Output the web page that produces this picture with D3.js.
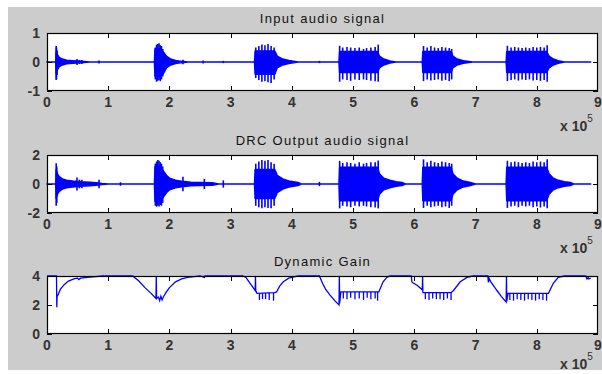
<!DOCTYPE html>
<html><head><meta charset="utf-8">
<script src="https://cdn.jsdelivr.net/npm/d3@7"></script>
<style>html,body{margin:0;padding:0;background:#fff}svg{display:block}</style>
</head><body><svg id="c" width="602" height="374"></svg>
<script>
// ---------- DATA (x in units of 1e5 samples) ----------
const xTicks = [0,1,2,3,4,5,6,7,8,9];
const titles = ["Input audio signal","DRC Output audio signal","Dynamic Gain"];
const yTicks1 = [-1,0,1];
const yTicks2 = [-2,0,2];
const yTicks3 = [0,2,4];

// Input signal: dense-core envelope
const inCoreX  = [0,0.145,0.15,0.17,0.2,0.25,0.32,0.42,0.55,0.7, 1.755,1.765,1.85,1.9,1.95,2.02,2.1,2.2,2.3, 3.39,3.40,3.72,3.76,3.85,3.95,4.1, 4.77,4.78,5.40,5.43,5.5,5.6,5.7, 6.13,6.14,6.60,6.63,6.7,6.8,6.95, 7.50,7.51,8.16,8.2,8.27,8.35,8.45, 8.88];
const inCoreHi = [0,0,0.35,0.25,0.16,0.1,0.06,0.04,0.02,0, 0,0.45,0.45,0.35,0.2,0.1,0.05,0.02,0, 0,0.38,0.38,0.2,0.1,0.05,0, 0,0.36,0.36,0.2,0.1,0.03,0, 0,0.36,0.36,0.2,0.1,0.04,0, 0,0.36,0.36,0.2,0.1,0.04,0, 0];
const inCoreLo = [0,0,-0.4,-0.27,-0.16,-0.1,-0.06,-0.04,-0.02,0, 0,-0.5,-0.5,-0.4,-0.2,-0.1,-0.05,-0.02,0, 0,-0.42,-0.42,-0.2,-0.1,-0.05,0, 0,-0.36,-0.36,-0.2,-0.1,-0.03,0, 0,-0.36,-0.36,-0.2,-0.1,-0.04,0, 0,-0.36,-0.36,-0.2,-0.1,-0.04,0, 0];
// Input signal: individual peaks
const inSpkX  = [0.15,0.155,0.165, 0.49,0.53,0.57,0.85, 1.77,1.79,1.81,1.83,1.85,1.87,1.89, 2.22,2.55,2.88, 3.41,3.46,3.51,3.56,3.61,3.66,3.71, 4.45, 4.78,4.83,4.90,4.96,5.03,5.10,5.17,5.22,5.29,5.36,5.41, 6.15,6.21,6.27,6.33,6.39,6.45,6.51,6.57,6.61, 7.52,7.58,7.64,7.70,7.76,7.82,7.88,7.94,8.00,8.06,8.12,8.17];
const inSpkHi = [0.55,0.5,0.4, 0.1,0.07,0.07,0.05, 0.5,0.6,0.62,0.65,0.58,0.55,0.45, 0.08,0.05,0.04, 0.5,0.55,0.6,0.58,0.62,0.55,0.5, 0.04, 0.56,0.5,0.52,0.5,0.48,0.5,0.45,0.48,0.5,0.52,0.6, 0.55,0.5,0.55,0.5,0.48,0.52,0.5,0.48,0.45, 0.56,0.5,0.52,0.5,0.48,0.5,0.48,0.52,0.5,0.52,0.5,0.58];
const inSpkLo = [-0.62,-0.58,-0.45, -0.1,-0.07,-0.07,-0.05, -0.6,-0.68,-0.65,-0.62,-0.66,-0.6,-0.5, -0.08,-0.05,-0.04, -0.55,-0.62,-0.68,-0.66,-0.7,-0.72,-0.6, -0.04, -0.68,-0.6,-0.62,-0.65,-0.6,-0.62,-0.6,-0.62,-0.65,-0.66,-0.68, -0.66,-0.6,-0.64,-0.62,-0.6,-0.65,-0.62,-0.66,-0.6, -0.66,-0.62,-0.6,-0.64,-0.6,-0.62,-0.6,-0.64,-0.62,-0.65,-0.62,-0.68];

// DRC output signal: dense-core envelope
const outCoreX  = [0,0.145,0.15,0.17,0.2,0.25,0.32,0.42,0.55,0.7,0.8,0.9,1.0, 1.755,1.765,1.85,1.9,1.95,2.0,2.1,2.2,2.35,2.5,2.7,2.8, 3.39,3.40,3.72,3.76,3.85,3.95,4.1,4.15, 4.77,4.78,5.40,5.43,5.5,5.6,5.7,5.8,5.85, 6.13,6.14,6.60,6.63,6.7,6.8,6.9,7.0, 7.50,7.51,8.16,8.2,8.27,8.35,8.45,8.55,8.6, 8.88];
const outCoreHi = [0,0,1.0,0.7,0.5,0.35,0.25,0.2,0.15,0.12,0.08,0.03,0, 0,1.2,1.2,0.9,0.6,0.4,0.25,0.18,0.12,0.1,0.08,0, 0,1.0,1.0,0.6,0.35,0.2,0.1,0, 0,1.15,1.15,0.7,0.4,0.25,0.15,0.1,0, 0,1.15,1.15,0.7,0.4,0.2,0.12,0, 0,1.15,1.15,0.7,0.4,0.25,0.15,0.1,0, 0];
const outCoreLo = [0,0,-1.0,-0.7,-0.5,-0.35,-0.25,-0.2,-0.15,-0.12,-0.08,-0.03,0, 0,-1.2,-1.2,-0.9,-0.6,-0.4,-0.25,-0.18,-0.12,-0.1,-0.08,0, 0,-1.0,-1.0,-0.6,-0.35,-0.2,-0.1,0, 0,-1.15,-1.15,-0.7,-0.4,-0.25,-0.15,-0.1,0, 0,-1.15,-1.15,-0.7,-0.4,-0.2,-0.12,0, 0,-1.15,-1.15,-0.7,-0.4,-0.25,-0.15,-0.1,0, 0];
// DRC output signal: individual peaks
const outSpkX  = [0.15,0.16, 0.49,0.53,0.57,0.85,1.2, 1.77,1.79,1.81,1.83,1.85,1.87,1.89, 2.22,2.57,2.88, 3.41,3.46,3.51,3.56,3.61,3.66,3.71, 4.45, 4.78,4.83,4.90,4.96,5.03,5.10,5.17,5.22,5.29,5.36,5.41, 6.15,6.21,6.27,6.33,6.39,6.45,6.51,6.57,6.61, 7.52,7.58,7.64,7.70,7.76,7.82,7.88,7.94,8.00,8.06,8.12,8.17];
const outSpkHi = [1.43,1.2, 0.45,0.3,0.3,0.3,0.12, 1.4,1.55,1.66,1.6,1.5,1.4,1.2, 0.5,0.35,0.25, 1.4,1.55,1.66,1.6,1.66,1.5,1.4, 0.15, 1.59,1.45,1.5,1.45,1.4,1.5,1.4,1.45,1.5,1.5,1.62, 1.7,1.5,1.6,1.5,1.45,1.55,1.5,1.45,1.4, 1.6,1.5,1.55,1.5,1.45,1.5,1.45,1.55,1.5,1.55,1.5,1.7];
const outSpkLo = [-1.5,-1.3, -0.45,-0.3,-0.3,-0.3,-0.12, -1.5,-1.56,-1.5,-1.55,-1.45,-1.5,-1.3, -0.5,-0.35,-0.25, -1.5,-1.6,-1.68,-1.6,-1.65,-1.68,-1.5, -0.15, -1.68,-1.5,-1.55,-1.6,-1.5,-1.55,-1.5,-1.55,-1.6,-1.62,-1.68, -1.65,-1.5,-1.6,-1.55,-1.5,-1.6,-1.55,-1.65,-1.5, -1.65,-1.55,-1.5,-1.6,-1.5,-1.55,-1.5,-1.6,-1.55,-1.62,-1.55,-1.68];

// Dynamic gain: smooth curve
const gainX = [0,0.155,0.16,0.165,0.18,0.22,0.28,0.35,0.45,0.5,0.52,0.55,0.7,0.8,0.9, 1.4,1.5,1.6,1.7,1.77,1.78,1.785,1.79,1.82,1.84,1.86,1.88,1.9,1.95,2.0,2.1,2.2,2.3,2.4,2.5,2.57,2.58,
  3.2,3.25,3.3,3.35,3.4,3.405,3.41,3.43,3.72,3.75,3.8,3.86,3.95,4.05,4.1,
  4.45,4.5,4.55,4.62,4.7,4.77,4.775,4.78,4.8,5.41,5.42,5.49,5.55,5.6,
  5.95,5.96,5.97,6.05,6.13,6.135,6.14,6.6,6.64,6.75,6.86,6.95,
  7.2,7.21,7.22,7.25,7.35,7.42,7.5,7.505,7.51,7.53,8.17,8.19,8.27,8.35,8.45,
  8.8,8.82,8.84,8.85,8.88];
const gainY = [4,4,1.85,2.6,2.7,3.1,3.4,3.65,3.82,3.85,3.75,3.85,3.92,3.95,4, 4,3.65,3.2,2.8,2.5,2.45,4,2.45,2.55,2.3,2.6,2.35,2.55,2.9,3.2,3.6,3.8,3.9,3.95,4,3.9,4,
  4,3.9,3.6,3.3,3.0,4,3.0,2.8,2.85,2.9,3.3,3.6,3.85,3.95,4,
  4,3.5,3.1,2.7,2.3,2.0,4,2.1,2.9,2.9,2.9,3.6,3.9,4,
  4,3.6,3.55,3.35,3.05,4,2.85,2.85,3.0,3.6,3.9,4,
  4,3.55,3.85,3.6,3.0,2.6,2.2,4,2.25,2.8,2.8,2.8,3.5,3.9,4,
  4,3.8,3.9,3.8,3.85];
// Dynamic gain: short downward dips on the plateaus
const dipX   = [3.47,3.52,3.57,3.63,3.70, 4.84,4.90,4.96,5.03,5.10,5.17,5.23,5.29,5.36,5.40, 6.18,6.24,6.30,6.36,6.42,6.48,6.54,6.60, 7.56,7.62,7.68,7.74,7.80,7.86,7.92,7.98,8.04,8.10,8.16];
const dipTop = [2.8,2.8,2.82,2.85,2.85, 2.9,2.9,2.9,2.9,2.9,2.9,2.9,2.9,2.9,2.9, 2.85,2.85,2.85,2.85,2.85,2.85,2.85,2.85, 2.8,2.8,2.8,2.8,2.8,2.8,2.8,2.8,2.8,2.8,2.8];
const dipBot = [2.35,2.4,2.4,2.35,2.3, 2.45,2.4,2.5,2.4,2.45,2.35,2.5,2.4,2.45,2.3, 2.4,2.35,2.45,2.4,2.4,2.35,2.45,2.35, 2.35,2.3,2.4,2.35,2.3,2.4,2.35,2.3,2.4,2.35,2.3];

// ---------- DRAW ----------
const W = 602, H = 374;
const svg = d3.select("#c");
svg.append("rect").attr("x",8).attr("y",7).attr("width",W-8).attr("height",363).attr("fill","#cccccc");

const left = 47, right = 598, ph = 58;
const tops = [33, 155, 276];
const x = d3.scaleLinear().domain([0,9]).range([left,right]);
const FONT = "'Liberation Sans', Arial, sans-serif";
const BLUE = "#0000ff";

function panel(i, yDom, yTicks) {
  const top = tops[i], bot = top + ph;
  const y = d3.scaleLinear().domain(yDom).range([bot, top]);
  const g = svg.append("g");
  g.append("rect").attr("x",left).attr("y",top).attr("width",right-left).attr("height",ph).attr("fill","#fff");
  g.append("text").attr("x",(left+right)/2).attr("y",top-10).attr("text-anchor","middle")
    .attr("font-family",FONT).attr("font-size",13).attr("letter-spacing",1.3).attr("fill","#111").text(titles[i]);
  xTicks.forEach(t => {
    g.append("text").attr("x",x(t)).attr("y",bot+16).attr("text-anchor","middle")
     .attr("font-family",FONT).attr("font-size",14).attr("font-weight","bold").attr("fill","#333").text(t);
  });
  yTicks.forEach(t => {
    g.append("text").attr("x",40).attr("y",y(t)+5).attr("text-anchor","end")
     .attr("font-family",FONT).attr("font-size",14).attr("font-weight","bold").attr("fill","#333").text(t);
  });
  const ey = Math.min(bot+40, 369);
  const ex = g.append("text").attr("x",560).attr("y",ey).attr("font-family",FONT).attr("font-size",14).attr("font-weight","bold").attr("fill","#333");
  ex.append("tspan").text("x 10");
  ex.append("tspan").attr("dy",-9).attr("font-size",10).attr("font-weight","normal").text("5");
  return {g, y, top, bot};
}

function frame(p, yTicks) {
  const g = p.g, top = p.top, bot = p.bot;
  const tl = 5;
  xTicks.slice(1,-1).forEach(t => {
    const xx = Math.round(x(t)) + 0.5;
    g.append("line").attr("x1",xx).attr("x2",xx).attr("y1",bot).attr("y2",bot-tl).attr("stroke","#000");
    g.append("line").attr("x1",xx).attr("x2",xx).attr("y1",top).attr("y2",top+tl).attr("stroke","#000");
  });
  yTicks.forEach(t => {
    const yy = Math.round(p.y(t)) + 0.5;
    g.append("line").attr("x1",left).attr("x2",left+tl).attr("y1",yy).attr("y2",yy).attr("stroke","#000");
    g.append("line").attr("x1",right).attr("x2",right-tl).attr("y1",yy).attr("y2",yy).attr("stroke","#000");
  });
  g.append("rect").attr("x",left+0.5).attr("y",top+0.5).attr("width",right-left-1).attr("height",ph-1)
    .attr("fill","none").attr("stroke","#000").attr("stroke-width",1.2);
}

function signal(p, cx, chi, clo, sx, shi, slo) {
  const core = cx.map((v,k)=>({x:v,hi:chi[k],lo:clo[k]}));
  const area = d3.area().x(d=>x(d.x)).y0(d=>p.y(d.lo)).y1(d=>p.y(d.hi));
  p.g.append("path").attr("d",area(core)).attr("fill",BLUE).attr("stroke",BLUE).attr("stroke-width",1.6).attr("stroke-linejoin","round");
  p.g.selectAll(null).data(sx.map((v,k)=>({x:v,hi:shi[k],lo:slo[k]}))).enter().append("line")
    .attr("x1",d=>x(d.x)).attr("x2",d=>x(d.x)).attr("y1",d=>p.y(d.hi)).attr("y2",d=>p.y(d.lo))
    .attr("stroke",BLUE).attr("stroke-width",1.6);
}

const p1 = panel(0,[-1,1],yTicks1);
signal(p1, inCoreX, inCoreHi, inCoreLo, inSpkX, inSpkHi, inSpkLo);
frame(p1, yTicks1);

const p2 = panel(1,[-2,2],yTicks2);
signal(p2, outCoreX, outCoreHi, outCoreLo, outSpkX, outSpkHi, outSpkLo);
frame(p2, yTicks2);

const p3 = panel(2,[0,4],yTicks3);
const gl = d3.line().x(d=>x(d[0])).y(d=>p3.y(d[1]));
p3.g.append("path").attr("d",gl(gainX.map((v,k)=>[v,gainY[k]]))).attr("fill","none").attr("stroke",BLUE).attr("stroke-width",1.3);
p3.g.selectAll(null).data(dipX.map((v,k)=>({x:v,t:dipTop[k],b:dipBot[k]}))).enter().append("line")
  .attr("x1",d=>x(d.x)).attr("x2",d=>x(d.x)).attr("y1",d=>p3.y(d.t)).attr("y2",d=>p3.y(d.b))
  .attr("stroke",BLUE).attr("stroke-width",1.3);
frame(p3, yTicks3);
</script></body></html>
